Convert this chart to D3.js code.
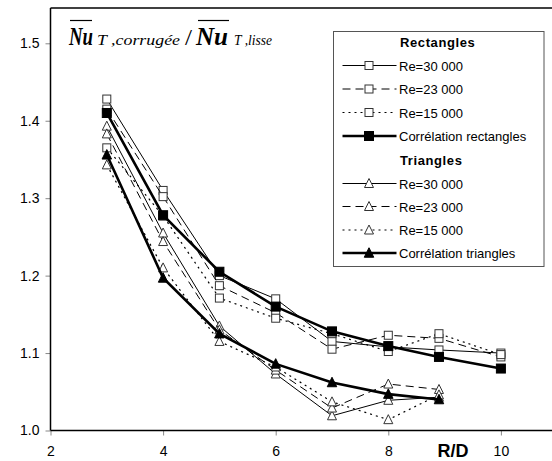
<!DOCTYPE html>
<html>
<head>
<meta charset="utf-8">
<script src="https://cdn.jsdelivr.net/npm/d3@7"></script>
<style>
  body { margin: 0; background: #fff; }
  svg { display: block; }
  .tick text { font-family: "Liberation Sans", Arial, sans-serif; font-size: 14px; fill: #000; }
</style>
</head>
<body>
<svg id="chart" width="552" height="461"></svg>
<script>
// Data
// ----
const rectX = [3, 4, 5, 6, 7, 8, 8.9, 10];
const rect30 = [1.428, 1.310, 1.200, 1.170, 1.115, 1.108, 1.104, 1.100];
const rect23 = [1.415, 1.302, 1.187, 1.152, 1.105, 1.123, 1.119, 1.095];
const rect15 = [1.365, 1.277, 1.171, 1.145, 1.125, 1.102, 1.125, 1.098];
const rectCorr = [1.410, 1.278, 1.205, 1.160, 1.128, 1.109, 1.095, 1.080];

const triX = [3, 4, 5, 6, 7, 8, 8.9];
const tri30 = [1.393, 1.255, 1.135, 1.073, 1.019, 1.039, 1.043];
const tri23 = [1.383, 1.244, 1.130, 1.078, 1.029, 1.060, 1.053];
const tri15 = [1.343, 1.210, 1.115, 1.082, 1.037, 1.014, 1.046];
const triCorr = [1.356, 1.197, 1.125, 1.086, 1.062, 1.047, 1.040];

const xTicks = [2, 4, 6, 8, 10];
const yTicks = [1.0, 1.1, 1.2, 1.3, 1.4, 1.5];

const series = [
  { label: "Re=30 000", xs: rectX, ys: rect30, dash: null, width: 1, marker: "square", filled: false },
  { label: "Re=23 000", xs: rectX, ys: rect23, dash: "8,5", width: 1, marker: "square", filled: false },
  { label: "Re=15 000", xs: rectX, ys: rect15, dash: "2,4", width: 1.2, marker: "square", filled: false },
  { label: "Corrélation rectangles", xs: rectX, ys: rectCorr, dash: null, width: 2.6, marker: "square", filled: true },
  { label: "Re=30 000", xs: triX, ys: tri30, dash: null, width: 1, marker: "triangle", filled: false },
  { label: "Re=23 000", xs: triX, ys: tri23, dash: "8,5", width: 1, marker: "triangle", filled: false },
  { label: "Re=15 000", xs: triX, ys: tri15, dash: "2,4", width: 1.2, marker: "triangle", filled: false },
  { label: "Corrélation triangles", xs: triX, ys: triCorr, dash: null, width: 2.6, marker: "triangle", filled: true }
];

// Layout
// ------
const svg = d3.select("#chart");
const plotLeft = 50.5, plotTop = 8, plotBottom = 430.5;

const x = d3.scaleLinear().domain([2, 11]).range([plotLeft, plotLeft + 9 * 56.3]);
const y = d3.scaleLinear().domain([1.0, 1.5]).range([plotBottom, 43.3]);

// Frame (top + left), x axis line
svg.append("line").attr("x1", plotLeft).attr("x2", 552).attr("y1", plotTop).attr("y2", plotTop)
  .attr("stroke", "#000").attr("stroke-width", 1.5);

// Axes
const yAxis = svg.append("g").attr("transform", `translate(${plotLeft},0)`)
  .call(d3.axisLeft(y).tickValues(yTicks).tickFormat(d3.format(".1f")).tickSize(5).tickPadding(6));
yAxis.select(".domain").remove();
yAxis.selectAll(".tick line").attr("stroke", "#888");
svg.append("line").attr("x1", plotLeft).attr("x2", plotLeft).attr("y1", plotTop).attr("y2", plotBottom)
  .attr("stroke", "#000").attr("stroke-width", 1.5);

const xAxis = svg.append("g").attr("transform", `translate(0,${plotBottom})`)
  .call(d3.axisBottom(x).tickValues(xTicks).tickFormat(d3.format("d")).tickSize(5).tickPadding(11));
xAxis.select(".domain").remove();
xAxis.selectAll(".tick line").attr("stroke", "#888");
svg.append("line").attr("x1", plotLeft).attr("x2", 552).attr("y1", plotBottom).attr("y2", plotBottom)
  .attr("stroke", "#000").attr("stroke-width", 1.5);

svg.append("text").attr("x", 453).attr("y", 457).attr("text-anchor", "middle")
  .style("font-family", "Liberation Sans, Arial, sans-serif").style("font-weight", "bold").style("font-size", "18px")
  .text("R/D");

// Markers
function drawMarker(g, cx, cy, s, big) {
  if (s.marker === "square") {
    const h = big ? 9 : 8;
    g.append("rect").attr("x", cx - h / 2).attr("y", cy - h / 2).attr("width", h).attr("height", h)
      .attr("fill", s.filled ? "#000" : "#fff").attr("stroke", s.filled ? "#000" : "#333").attr("stroke-width", 1);
  } else {
    const w = big ? 9.5 : 9, h = big ? 8.5 : 8;
    g.append("path")
      .attr("d", `M${cx},${cy - h / 2 - 1}L${cx + w / 2},${cy + h / 2}L${cx - w / 2},${cy + h / 2}Z`)
      .attr("fill", s.filled ? "#000" : "#fff").attr("stroke", s.filled ? "#000" : "#333").attr("stroke-width", 1);
  }
}

// Series
const line = d3.line().x(d => x(d[0])).y(d => y(d[1]));
series.forEach(s => {
  const pts = s.xs.map((v, i) => [v, s.ys[i]]);
  const g = svg.append("g");
  g.append("path").attr("d", line(pts)).attr("fill", "none").attr("stroke", "#000")
    .attr("stroke-width", s.width).attr("stroke-dasharray", s.dash);
  pts.forEach(p => drawMarker(g, x(p[0]), y(p[1]), s, s.filled));
});

// Title: Nu(bar)_T,corrugée / Nu(bar)_T,lisse
const titleParts = [
  { text: "Nu", x: 69, len: 24, size: 26, weight: "bold", italic: true },
  { text: "T ,corrugée", x: 97, len: 83, size: 15, weight: "normal", italic: true },
  { text: "/", x: 185, len: 7, size: 24, weight: "normal", italic: false },
  { text: "Nu", x: 196, len: 32, size: 26, weight: "bold", italic: true },
  { text: "T ,lisse", x: 234, len: 38, size: 15, weight: "normal", italic: true }
];
titleParts.forEach(p => {
  svg.append("text").attr("x", p.x).attr("y", 45)
    .attr("textLength", p.len).attr("lengthAdjust", "spacingAndGlyphs")
    .style("font-family", "Liberation Serif, Times New Roman, serif")
    .style("font-style", p.italic ? "italic" : "normal")
    .style("font-weight", p.weight).style("font-size", p.size + "px")
    .text(p.text);
});
svg.append("line").attr("x1", 70).attr("x2", 92).attr("y1", 20.5).attr("y2", 20.5).attr("stroke", "#000").attr("stroke-width", 1.2);
svg.append("line").attr("x1", 198).attr("x2", 229).attr("y1", 20.5).attr("y2", 20.5).attr("stroke", "#000").attr("stroke-width", 1.2);

// Legend
const lg = svg.append("g");
lg.append("rect").attr("x", 333.5).attr("y", 31.5).attr("width", 210.5).attr("height", 235)
  .attr("fill", "#fff").attr("stroke", "#555").attr("stroke-width", 1);
const headers = [{ text: "Rectangles", y: 42 }, { text: "Triangles", y: 160 }];
headers.forEach(h => {
  lg.append("text").attr("x", 400).attr("y", h.y + 5)
    .style("font-family", "Liberation Sans, Arial, sans-serif").style("font-weight", "bold").style("font-size", "13px")
    .style("letter-spacing", "0.6px").text(h.text);
});
const rowY = [65.5, 89, 112.5, 136, 183.5, 206.5, 230, 253];
series.forEach((s, i) => {
  const ry = rowY[i];
  lg.append("line").attr("x1", 342.5).attr("x2", 396.5).attr("y1", ry).attr("y2", ry)
    .attr("stroke", "#000").attr("stroke-width", s.width).attr("stroke-dasharray", s.dash);
  drawMarker(lg, 369, ry, s, s.filled);
  lg.append("text").attr("x", 399).attr("y", ry + 5)
    .style("font-family", "Liberation Sans, Arial, sans-serif").style("font-size", "13px").text(s.label);
});
</script>
</body>
</html>
